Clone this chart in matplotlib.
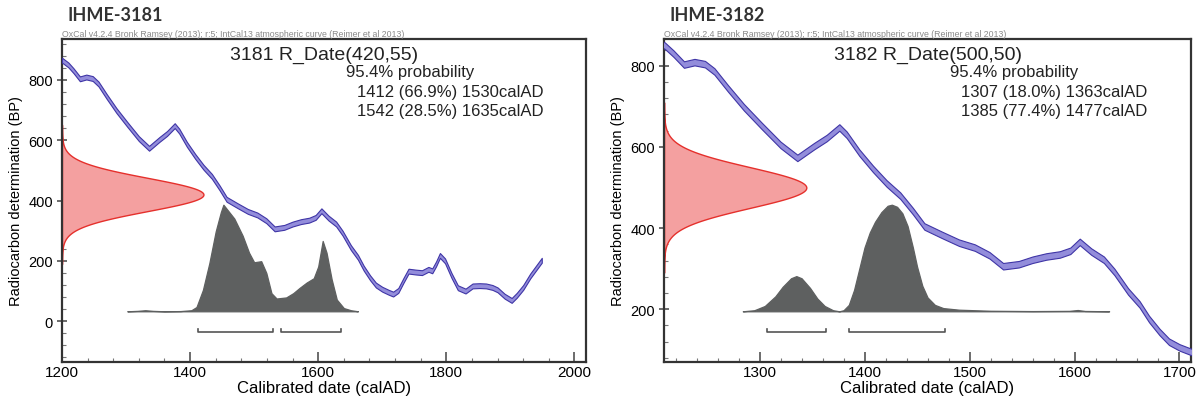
import numpy as np
import matplotlib
matplotlib.use("Agg")
import matplotlib.pyplot as plt
from matplotlib.ticker import MultipleLocator, AutoMinorLocator

plt.rcParams["font.family"] = ["Liberation Sans", "DejaVu Sans"]

# IntCal13 calibration curve as drawn (cal AD -> 14C BP)
curve_year = [1200, 1210, 1218, 1228, 1238, 1248, 1257, 1270, 1285, 1302,
              1320, 1336, 1352, 1364, 1376, 1383, 1395, 1408, 1421, 1434,
              1446, 1457, 1474, 1490, 1505, 1519, 1532, 1547, 1560, 1573,
              1586, 1596, 1605, 1616, 1628, 1638, 1651, 1662, 1671, 1681,
              1690, 1700, 1710, 1717, 1725, 1733, 1741, 1752, 1762, 1772,
              1778, 1784, 1790, 1798, 1808, 1818, 1830, 1841, 1852, 1862,
              1872, 1880, 1891, 1902, 1910, 1920, 1931, 1940, 1949]
curve_bp = [865, 849, 830, 803, 809, 804, 786, 744, 698, 652,
            605, 573, 602, 622, 648, 630, 586, 546, 510, 480,
            442, 404, 383, 364, 352, 333, 306, 311, 322, 330,
            335, 344, 366, 342, 322, 292, 244, 212, 176, 144,
            120, 106, 96, 90, 102, 135, 166, 163, 161, 172,
            167, 190, 218, 200, 152, 111, 100, 117, 118, 117,
            112, 104, 83, 69, 86, 112, 150, 176, 202]
curve_sigma = 8

oxcal_note = "OxCal v4.2.4 Bronk Ramsey (2013); r:5; IntCal13 atmospheric curve (Reimer et al 2013)"

# sample IHME-3181
s1_name = "IHME-3181"
s1_label = "3181 R_Date(420,55)"
s1_mean, s1_err = 420, 55
s1_ranges = [(1412, 1530), (1542, 1635)]
s1_range_text = ["1412 (66.9%) 1530calAD", "1542 (28.5%) 1635calAD"]
s1_post_year = [1302, 1318, 1330, 1342, 1360, 1385, 1402, 1410, 1420, 1430,
                1440, 1448, 1452, 1469, 1482, 1492, 1500, 1511, 1519, 1527,
                1535, 1550, 1561, 1571, 1582, 1593, 1600, 1607, 1613, 1621,
                1629, 1640, 1651, 1662]
s1_post_prob = [0, 0.004, 0.01, 0.004, 0, 0.002, 0.01, 0.04, 0.2, 0.45,
                0.75, 0.93, 1.0, 0.87, 0.71, 0.55, 0.46, 0.47, 0.36, 0.17,
                0.12, 0.13, 0.17, 0.22, 0.27, 0.31, 0.42, 0.66, 0.55, 0.30,
                0.11, 0.03, 0.01, 0]

# sample IHME-3182
s2_name = "IHME-3182"
s2_label = "3182 R_Date(500,50)"
s2_mean, s2_err = 500, 50
s2_ranges = [(1307, 1363), (1385, 1477)]
s2_range_text = ["1307 (18.0%) 1363calAD", "1385 (77.4%) 1477calAD"]
s2_post_year = [1284, 1295, 1305, 1315, 1322, 1330, 1335, 1340, 1348, 1355,
                1362, 1370, 1376, 1380, 1385, 1390, 1395, 1400, 1405, 1410,
                1416, 1422, 1426, 1431, 1436, 1441, 1446, 1450, 1455, 1460,
                1467, 1475, 1490, 1520, 1560, 1595, 1603, 1610, 1633]
s2_post_prob = [0, 0.01, 0.05, 0.14, 0.23, 0.31, 0.33, 0.31, 0.22, 0.12,
                0.05, 0.01, 0.0, 0.01, 0.06, 0.2, 0.4, 0.6, 0.74, 0.84,
                0.93, 0.99, 1.0, 0.98, 0.92, 0.80, 0.6, 0.42, 0.24, 0.13,
                0.06, 0.03, 0.015, 0.005, 0.002, 0.004, 0.012, 0.003, 0]


def draw_panel(ax, name, label, mean, err, ranges, range_text,
               post_year, post_prob, xlim, ylim, xstep, ystep):
    ax.set_xlim(*xlim)
    ax.set_ylim(*ylim)
    x0, x1 = xlim
    y0, y1 = ylim
    xspan = x1 - x0
    yspan = y1 - y0

    # calibration curve band
    yr = np.array(curve_year)
    bp = np.array(curve_bp)
    ax.fill_between(yr, bp - curve_sigma, bp + curve_sigma,
                    facecolor="#938ddb", edgecolor="#3f35a6",
                    linewidth=0.8, zorder=4)

    # measured radiocarbon date (normal on the y axis)
    bp_axis = np.linspace(mean - 4.2 * err, mean + 4.2 * err, 400)
    dens = np.exp(-0.5 * ((bp_axis - mean) / err) ** 2)
    ax.fill_betweenx(bp_axis, x0, x0 + 0.27 * xspan * dens,
                     facecolor="#f4a0a0", edgecolor="#e5302c",
                     linewidth=1.0, zorder=2)

    # calibrated distribution
    base = y0 + 0.157 * yspan
    h = np.array(post_prob) * 0.33 * yspan
    ax.fill_between(post_year, base, base + h, facecolor="#5e6060",
                    edgecolor="#5e6060", linewidth=0.9, zorder=3)

    # 95.4% range brackets
    by = y0 + 0.093 * yspan
    tk = 0.010 * yspan
    for a, b in ranges:
        ax.plot([a, a, b, b], [by + tk, by, by, by + tk],
                color="#555555", lw=1.2, zorder=3)

    ax.text(0.5, 0.952, label, transform=ax.transAxes, ha="center",
            va="center", fontsize=14, color="#222222")
    ax.text(0.542, 0.898, "95.4% probability", transform=ax.transAxes,
            ha="left", va="center", fontsize=12, color="#222222")
    for i, t in enumerate(range_text):
        ax.text(0.563, 0.839 - i * 0.061, t, transform=ax.transAxes,
                ha="left", va="center", fontsize=12, color="#222222")

    ax.text(0.0, 1.004, oxcal_note, transform=ax.transAxes, ha="left",
            va="bottom", fontsize=6.3, color="#8a8a8a")
    ax.text(0.01, 1.077, name, transform=ax.transAxes, ha="left",
            va="center", fontsize=13, fontweight="bold", color="#333333",
            family=["Lato", "DejaVu Sans"])

    ax.set_xlabel("Calibrated date (calAD)", fontsize=12, labelpad=1)
    ax.set_ylabel("Radiocarbon determination (BP)", fontsize=10.5, labelpad=4)

    ax.xaxis.set_major_locator(MultipleLocator(xstep))
    ax.yaxis.set_major_locator(MultipleLocator(ystep))
    ax.xaxis.set_minor_locator(AutoMinorLocator(5))
    ax.yaxis.set_minor_locator(AutoMinorLocator(5))
    ax.tick_params(axis="x", which="major", direction="in", length=7,
                   width=1.1, labelsize=11, pad=2, color="#444444")
    ax.tick_params(axis="x", which="minor", direction="in", length=3,
                   width=0.8, color="#777777")
    ax.tick_params(axis="y", which="major", direction="inout", length=7,
                   width=1.1, labelsize=10.5, pad=3, color="#444444")
    ax.tick_params(axis="y", which="minor", direction="in", length=3,
                   width=0.8, color="#777777")
    for sp in ax.spines.values():
        sp.set_color("#333333")
        sp.set_linewidth(1.6)


fig = plt.figure(figsize=(12.01, 4.02), dpi=100)
ax1 = fig.add_axes([0.0516, 0.097, 0.4363, 0.8035])
ax2 = fig.add_axes([0.5529, 0.097, 0.4388, 0.8035])

draw_panel(ax1, s1_name, s1_label, s1_mean, s1_err, s1_ranges, s1_range_text,
           s1_post_year, s1_post_prob, (1200, 2018), (-135, 935), 200, 200)
draw_panel(ax2, s2_name, s2_label, s2_mean, s2_err, s2_ranges, s2_range_text,
           s2_post_year, s2_post_prob, (1209, 1711), (70, 866), 100, 200)

fig.savefig("out.png", dpi=100)
